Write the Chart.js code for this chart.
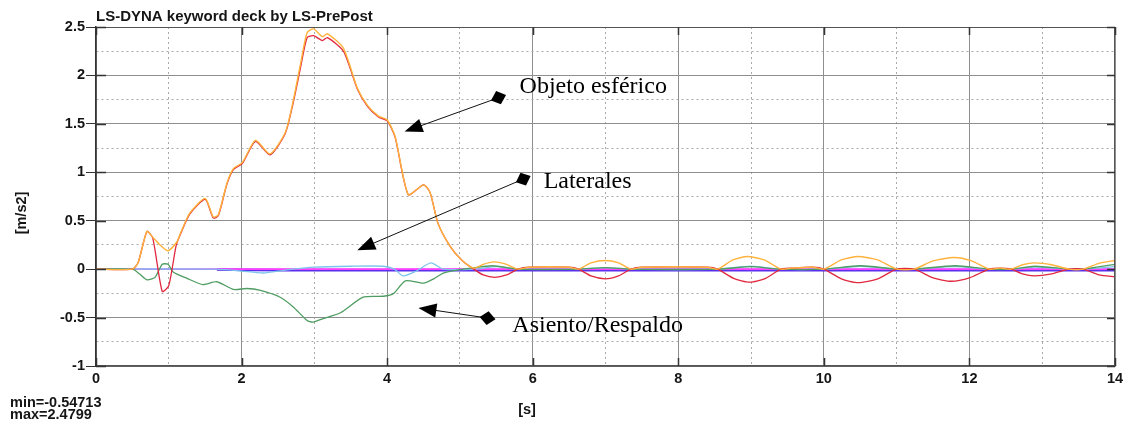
<!DOCTYPE html>
<html lang="es">
<head>
<meta charset="utf-8">
<title>LS-DYNA aceleración</title>
<script src="https://cdn.jsdelivr.net/npm/chart.js@4.4.0/dist/chart.umd.min.js"></script>
<style>
  html, body { margin: 0; padding: 0; background: #fff; }
  #wrap { width: 1129px; height: 425px; }
</style>
</head>
<body>
<div id="wrap"><canvas id="grafico" width="1129" height="425"></canvas></div>
<script>
// Datos (tiempo en s, aceleración en m/s2)
const tNaranja = [0, 0.5, 0.58, 0.70, 0.78, 0.88, 0.99, 1.11, 1.16, 1.29, 1.50, 1.61, 1.68, 1.80, 1.89, 2.01, 2.19, 2.39, 2.60, 2.71, 2.81, 2.90, 2.99, 3.11, 3.18, 3.40, 3.59, 3.73, 3.88, 4.00, 4.11, 4.29, 4.50, 4.59, 4.70, 4.87, 5.03, 5.19, 5.32, 5.46, 5.62, 5.80, 5.95, 6.50, 6.63, 6.80, 7.00, 7.18, 7.35, 7.50, 8.40, 8.54, 8.75, 8.95, 9.18, 9.41, 9.55, 9.85, 10.0, 10.24, 10.47, 10.74, 11.0, 11.24, 11.5, 11.79, 12.03, 12.27, 12.42, 12.57, 12.73, 12.89, 13.13, 13.37, 13.56, 13.78, 14.0];
const aNaranja = [0, 0, 0.07, 0.39, 0.33, 0.25, 0.19, 0.28, 0.37, 0.58, 0.73, 0.54, 0.56, 0.89, 1.04, 1.10, 1.33, 1.19, 1.41, 1.74, 2.12, 2.44, 2.48, 2.40, 2.43, 2.28, 1.87, 1.69, 1.58, 1.54, 1.37, 0.77, 0.87, 0.79, 0.47, 0.23, 0.09, 0.01, 0.05, 0.075, 0.055, 0.0, 0.02, 0.02, 0.0, 0.065, 0.09, 0.065, 0.0, 0.02, 0.02, 0.0, 0.095, 0.13, 0.095, 0.0, 0.01, 0.02, 0.0, 0.095, 0.13, 0.095, 0.0, 0.0, 0.085, 0.12, 0.085, 0.0, 0.01, 0.0, 0.045, 0.065, 0.045, 0.0, 0.0, 0.06, 0.09];

const tRojo = [0, 0.5, 0.58, 0.70, 0.78, 0.91, 1.00, 1.10, 1.16, 1.29, 1.50, 1.61, 1.68, 1.80, 1.89, 2.01, 2.19, 2.39, 2.60, 2.71, 2.81, 2.90, 2.99, 3.11, 3.18, 3.40, 3.59, 3.73, 3.88, 4.00, 4.11, 4.29, 4.50, 4.59, 4.70, 4.87, 5.03, 5.19, 5.32, 5.48, 5.64, 5.80, 5.95, 6.50, 6.63, 6.80, 7.00, 7.18, 7.35, 7.50, 8.40, 8.54, 8.76, 8.98, 9.20, 9.41, 9.55, 9.85, 10.0, 10.24, 10.47, 10.74, 11.0, 11.24, 11.5, 11.75, 12.0, 12.27, 12.42, 12.57, 12.73, 12.89, 13.13, 13.37, 13.56, 13.78, 14.0];
const aRojo = [0, 0, 0.07, 0.39, 0.32, -0.23, -0.17, 0.24, 0.36, 0.57, 0.72, 0.53, 0.55, 0.88, 1.03, 1.09, 1.32, 1.18, 1.40, 1.72, 2.08, 2.39, 2.41, 2.36, 2.39, 2.25, 1.86, 1.68, 1.57, 1.53, 1.36, 0.77, 0.87, 0.79, 0.47, 0.23, 0.09, 0.0, -0.06, -0.085, -0.06, 0.0, 0.02, 0.02, 0.0, -0.07, -0.10, -0.07, 0.0, 0.02, 0.02, 0.0, -0.095, -0.135, -0.095, 0.0, 0.01, 0.02, 0.0, -0.10, -0.14, -0.10, 0.0, 0.0, -0.09, -0.125, -0.09, 0.0, 0.01, 0.0, -0.05, -0.07, -0.05, 0.0, 0.0, -0.06, -0.08];

const tVerde = [0, 0.5, 0.6, 0.70, 0.81, 0.91, 0.99, 1.06, 1.25, 1.47, 1.66, 1.89, 2.07, 2.26, 2.53, 2.71, 2.90, 2.98, 3.12, 3.36, 3.67, 3.95, 4.09, 4.25, 4.50, 4.64, 4.77, 4.96, 5.15, 5.45, 5.80, 6.63, 7.0, 7.35, 8.54, 9.0, 9.41, 10.0, 10.5, 11.0, 11.24, 11.8, 12.27, 12.57, 12.9, 13.37, 13.56, 14.0];
const aVerde = [0, 0, -0.05, -0.11, -0.085, 0.05, 0.05, -0.03, -0.095, -0.16, -0.13, -0.21, -0.20, -0.22, -0.29, -0.39, -0.53, -0.547, -0.51, -0.45, -0.29, -0.28, -0.25, -0.12, -0.145, -0.10, -0.04, -0.01, 0.01, 0.035, 0.0, 0.0, 0.015, 0.0, 0.0, 0.025, 0.0, 0.0, 0.035, 0.0, 0.0, 0.035, 0.0, 0.0, 0.03, 0.0, 0.0, 0.05];

const tCeleste = [0, 1.66, 2.0, 2.3, 2.6, 3.0, 3.5, 3.95, 4.1, 4.22, 4.4, 4.6, 4.77, 5.2, 5.5, 5.8, 6.63, 7.0, 7.35, 8.54, 9.0, 9.41, 10.0, 10.5, 11.0, 11.24, 11.8, 12.27, 12.57, 12.9, 13.37, 13.56, 14.0];
const aCeleste = [0, 0, -0.02, -0.04, -0.01, 0.02, 0.03, 0.03, 0.0, -0.07, -0.02, 0.065, 0.0, 0.0, 0.025, 0.0, 0.0, 0.015, 0.0, 0.0, 0.03, 0.0, 0.0, 0.03, 0.0, 0.0, 0.025, 0.0, 0.0, 0.02, 0.0, 0.0, 0.025];

const tAzul = [1.66, 2.6, 14.0];
const aAzul = [-0.004, -0.01, -0.01];

const tMagenta = [0, 14.0];
const aMagenta = [0, 0];

// Textos
const titulo = 'LS-DYNA keyword deck by LS-PrePost';
const tituloY = '[m/s2]';
const tituloX = '[s]';
const textoMin = 'min=-0.54713';
const textoMax = 'max=2.4799';

// Notas con flecha (en unidades de la gráfica)
const notasTexto = ['Objeto esférico', 'Laterales', 'Asiento/Respaldo'];
const notasTextoX = [5.82, 6.15, 5.72];
const notasTextoY = [1.814, 0.835, -0.65];
const notasColaX = [5.53, 5.87, 5.38];
const notasColaY = [1.77, 0.93, -0.505];
const notasPuntaX = [4.24, 3.59, 4.43];
const notasPuntaY = [1.42, 0.196, -0.40];

const fuente = "'Liberation Sans', Arial, sans-serif";

function puntos(t, a) {
    return t.map((x, i) => ({ x: x, y: a[i] }));
}

function esMayor(v, paso) {
    return Math.abs(v / paso - Math.round(v / paso)) < 1e-6;
}

function serie(t, a, color, ancho) {
    return {
        data: puntos(t, a),
        borderColor: color,
        borderWidth: ancho,
        pointRadius: 0,
        fill: false,
        tension: 0.22
    };
}

// Dibuja la punta (triángulo) y la cola (rombo) de una flecha
function dibujarFlecha(ctx, x0, y0, x1, y1) {
    const ang = Math.atan2(y1 - y0, x1 - x0);
    ctx.beginPath();
    ctx.moveTo(x0, y0);
    ctx.lineTo(x1 - 14 * Math.cos(ang), y1 - 14 * Math.sin(ang));
    ctx.stroke();

    ctx.save();
    ctx.translate(x1, y1);
    ctx.rotate(ang);
    ctx.beginPath();
    ctx.moveTo(0, 0);
    ctx.lineTo(-18, -7);
    ctx.lineTo(-18, 7);
    ctx.closePath();
    ctx.fill();
    ctx.restore();

    ctx.save();
    ctx.translate(x0, y0);
    ctx.rotate(ang);
    ctx.beginPath();
    ctx.moveTo(-8, 0);
    ctx.lineTo(0, -7);
    ctx.lineTo(8, 0);
    ctx.lineTo(0, 7);
    ctx.closePath();
    ctx.fill();
    ctx.restore();
}

const pluginMarco = {
    id: 'marco',
    afterDraw(chart) {
        const ctx = chart.ctx;
        const area = chart.chartArea;
        const sx = chart.scales.x;
        const sy = chart.scales.y;
        ctx.save();

        // marco del área
        ctx.strokeStyle = '#555';
        ctx.lineWidth = 1;
        ctx.strokeRect(area.left + 0.5, area.top + 0.5, area.width - 1, area.height - 1);

        // marcas interiores en las divisiones principales
        ctx.strokeStyle = '#333';
        ctx.lineWidth = 1.5;
        for (let v = 0; v <= 14; v += 2) {
            const px = Math.round(sx.getPixelForValue(v)) + 0.5;
            ctx.beginPath();
            ctx.moveTo(px, area.bottom); ctx.lineTo(px, area.bottom - 8);
            ctx.moveTo(px, area.top); ctx.lineTo(px, area.top + 8);
            ctx.stroke();
        }
        for (let v = -1; v <= 2.5; v += 0.5) {
            const py = Math.round(sy.getPixelForValue(v)) + 0.5;
            ctx.beginPath();
            ctx.moveTo(area.left, py); ctx.lineTo(area.left + 10, py);
            ctx.moveTo(area.right, py); ctx.lineTo(area.right - 8, py);
            ctx.stroke();
        }

        // notas
        ctx.strokeStyle = '#111';
        ctx.fillStyle = '#000';
        ctx.lineWidth = 1;
        for (let i = 0; i < notasTexto.length; i++) {
            dibujarFlecha(ctx,
                sx.getPixelForValue(notasColaX[i]), sy.getPixelForValue(notasColaY[i]),
                sx.getPixelForValue(notasPuntaX[i]), sy.getPixelForValue(notasPuntaY[i]));
        }
        ctx.font = "24px 'Liberation Serif', 'Times New Roman', serif";
        ctx.textAlign = 'left';
        ctx.textBaseline = 'alphabetic';
        for (let i = 0; i < notasTexto.length; i++) {
            ctx.fillText(notasTexto[i], sx.getPixelForValue(notasTextoX[i]), sy.getPixelForValue(notasTextoY[i]));
        }

        // título y etiquetas
        ctx.fillStyle = '#151515';
        ctx.font = 'bold 15px ' + fuente;
        ctx.fillText(titulo, area.left, 21);
        ctx.font = 'bold 14.5px ' + fuente;
        ctx.fillText(textoMin, 10, 407);
        ctx.fillText(textoMax, 10, 419);
        ctx.textAlign = 'center';
        ctx.textBaseline = 'middle';
        ctx.fillText(tituloX, 527, 410);
        ctx.translate(22, 213);
        ctx.rotate(-Math.PI / 2);
        ctx.fillText(tituloY, 0, 0);
        ctx.restore();
    }
};

const ctxGrafico = document.getElementById('grafico').getContext('2d');
const grafico = new Chart(ctxGrafico, {
    type: 'line',
    data: {
        datasets: [
            serie(tNaranja, aNaranja, '#ffb23c', 1.4),
            serie(tRojo, aRojo, '#e0283e', 1.3),
            serie(tVerde, aVerde, '#4f9d62', 1.3),
            serie(tCeleste, aCeleste, '#7cc4ec', 1.3),
            serie(tMagenta, aMagenta, '#ff40ff', 1.6),
            serie(tAzul, aAzul, '#5a30ee', 2.6)
        ]
    },
    options: {
        responsive: false,
        animation: false,
        layout: { padding: { top: 27, right: 14, left: 0, bottom: 0 } },
        plugins: {
            legend: { display: false },
            tooltip: { enabled: false },
            title: { display: false }
        },
        scales: {
            x: {
                type: 'linear',
                min: 0,
                max: 14,
                afterFit: (s) => { s.height = 59; },
                ticks: {
                    stepSize: 1,
                    autoSkip: false,
                    maxRotation: 0,
                    padding: 4,
                    color: '#151515',
                    font: { family: fuente, size: 14.5, weight: 'bold' },
                    callback: (v) => esMayor(v, 2) ? String(v) : ''
                },
                grid: {
                    drawTicks: false,
                    color: (c) => (c.tick && !esMayor(c.tick.value, 2)) ? '#a9a9a9' : '#8e8e8e',
                    lineWidth: 1
                },
                border: {
                    display: true,
                    color: '#333',
                    width: 1.5,
                    dash: (c) => (c.tick && !esMayor(c.tick.value, 2)) ? [2, 3] : []
                }
            },
            y: {
                type: 'linear',
                min: -1,
                max: 2.5,
                afterFit: (s) => { s.width = 96; },
                ticks: {
                    stepSize: 0.25,
                    autoSkip: false,
                    padding: 1,
                    color: '#151515',
                    font: { family: fuente, size: 14.5, weight: 'bold' },
                    callback: (v) => esMayor(v, 0.5) ? String(v) : ''
                },
                grid: {
                    drawTicks: true,
                    tickLength: 10,
                    tickColor: (c) => (c.tick && esMayor(c.tick.value, 0.5)) ? '#333' : 'rgba(0,0,0,0)',
                    color: (c) => (c.tick && !esMayor(c.tick.value, 0.5)) ? '#a9a9a9' : '#8e8e8e',
                    lineWidth: 1
                },
                border: {
                    display: true,
                    color: '#333',
                    width: 1.5,
                    dash: (c) => (c.tick && !esMayor(c.tick.value, 0.5)) ? [2, 3] : []
                }
            }
        }
    },
    plugins: [pluginMarco]
});
</script>
</body>
</html>
